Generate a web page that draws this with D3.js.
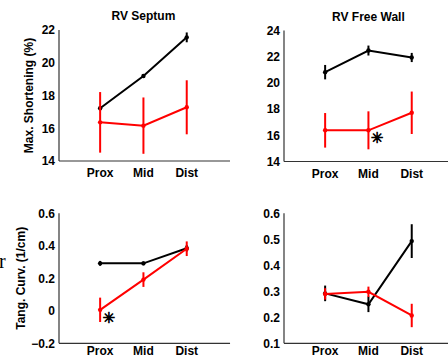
<!DOCTYPE html>
<html>
<head>
<meta charset="utf-8">
<script src="https://cdn.jsdelivr.net/npm/d3@7"></script>
<style>
body { margin: 0; background: #fff; }
text { font-family: "Liberation Sans", Arial, sans-serif; font-weight: bold; }
</style>
</head>
<body>
<div id="chart"></div>
<script>
var width = 448, height = 358;

var segments = ["Prox", "Mid", "Dist"];
var titles = ["RV Septum", "RV Free Wall", "", ""];
var yLabels = ["Max. Shortening (%)", "", "Tang. Curv. (1/cm)", ""];

// black = control, red = patient; mean and error half-width
var shortSeptBlack = [17.22, 19.19, 21.55];
var shortSeptBlackErr = [0.12, 0.1, 0.3];
var shortSeptRed = [16.36, 16.16, 17.28];
var shortSeptRedErr = [1.85, 1.72, 1.65];

var shortFreeBlack = [20.82, 22.47, 21.94];
var shortFreeBlackErr = [0.55, 0.38, 0.35];
var shortFreeRed = [16.38, 16.38, 17.72];
var shortFreeRedErr = [1.32, 1.45, 1.62];

var curvSeptBlack = [0.292, 0.292, 0.385];
var curvSeptBlackErr = [0.015, 0.012, 0.02];
var curvSeptRed = [0.006, 0.192, 0.382];
var curvSeptRedErr = [0.075, 0.045, 0.045];

var curvFreeBlack = [0.292, 0.25, 0.493];
var curvFreeBlackErr = [0.03, 0.03, 0.065];
var curvFreeRed = [0.29, 0.298, 0.207];
var curvFreeRedErr = [0.022, 0.02, 0.045];

var yDomains = [[14, 22], [14, 24], [-0.2, 0.6], [0.1, 0.6]];
var yTicks = [[14, 16, 18, 20, 22], [14, 16, 18, 20, 22, 24],
    [-0.2, 0, 0.2, 0.4, 0.6], [0.1, 0.2, 0.3, 0.4, 0.5, 0.6]];
// significance stars: [panel, segment index]
var stars = [[1, 1], [2, 0]];

var panels = [
    {left: 59, top: 30, h: 131, black: shortSeptBlack, blackErr: shortSeptBlackErr, red: shortSeptRed, redErr: shortSeptRedErr},
    {left: 284, top: 30.5, h: 131, black: shortFreeBlack, blackErr: shortFreeBlackErr, red: shortFreeRed, redErr: shortFreeRedErr},
    {left: 59, top: 213.3, h: 130, black: curvSeptBlack, blackErr: curvSeptBlackErr, red: curvSeptRed, redErr: curvSeptRedErr},
    {left: 284, top: 213.3, h: 130, black: curvFreeBlack, blackErr: curvFreeBlackErr, red: curvFreeRed, redErr: curvFreeRedErr}
];

var svg = d3.select("#chart")
    .append("svg")
    .attr("width", width)
    .attr("height", height);

var axisColor = "#333";

panels.forEach(function(p, k) {
    var x = d3.scaleLinear().domain([0.05, 4]).range([p.left, p.left + 3.95 * 43.3]);
    var y = d3.scaleLinear().domain(yDomains[k]).range([p.top + p.h, p.top]);
    var g = svg.append("g");

    // axes lines
    g.append("line")
        .attr("x1", x(0.05)).attr("x2", x(4))
        .attr("y1", y(yDomains[k][0])).attr("y2", y(yDomains[k][0]))
        .attr("stroke", axisColor).attr("stroke-width", 1.2);
    g.append("line")
        .attr("x1", x(0.05)).attr("x2", x(0.05))
        .attr("y1", y(yDomains[k][0])).attr("y2", y(yDomains[k][1]))
        .attr("stroke", axisColor).attr("stroke-width", 1.2);

    g.selectAll(".ytick")
        .data(yTicks[k])
        .enter().append("text")
        .attr("x", x(0.05) - 4)
        .attr("y", function(d) { return y(d); })
        .attr("dy", "0.36em")
        .attr("text-anchor", "end")
        .style("font-size", "12px")
        .text(function(d) { return d3.format("")(+d.toFixed(1)); });

    g.selectAll(".xtick")
        .data(segments)
        .enter().append("text")
        .attr("x", function(d, i) { return x(i + 1); })
        .attr("y", y(yDomains[k][0]) + (k < 2 ? 16 : 12))
        .attr("text-anchor", "middle")
        .style("font-size", "12px")
        .text(function(d) { return d; });

    if (titles[k]) {
        g.append("text")
            .attr("x", x(2))
            .attr("y", p.top - 10)
            .attr("text-anchor", "middle")
            .style("font-size", "12px")
            .text(titles[k]);
    }
    if (yLabels[k]) {
        g.append("text")
            .attr("transform", "translate(" + (k === 0 ? 33 : 25) + "," + (p.top + p.h / 2) + ") rotate(-90)")
            .attr("text-anchor", "middle")
            .style("font-size", "12px")
            .text(yLabels[k]);
    }

    [["#000", p.black, p.blackErr], ["#f00", p.red, p.redErr]].forEach(function(s) {
        var col = s[0], vals = s[1], errs = s[2];
        g.append("path")
            .datum(vals)
            .attr("fill", "none")
            .attr("stroke", col)
            .attr("stroke-width", 2)
            .attr("d", d3.line().x(function(d, i) { return x(i + 1); }).y(function(d) { return y(d); }));
        g.selectAll(null)
            .data(vals)
            .enter().append("line")
            .attr("x1", function(d, i) { return x(i + 1); })
            .attr("x2", function(d, i) { return x(i + 1); })
            .attr("y1", function(d, i) { return y(d - errs[i]); })
            .attr("y2", function(d, i) { return y(d + errs[i]); })
            .attr("stroke", col)
            .attr("stroke-width", 2);
        g.selectAll(null)
            .data(vals)
            .enter().append("circle")
            .attr("cx", function(d, i) { return x(i + 1); })
            .attr("cy", function(d) { return y(d); })
            .attr("r", 2.2)
            .attr("fill", col);
    });

    stars.filter(function(s) { return s[0] === k; }).forEach(function(s) {
        g.append("text")
            .attr("x", x(s[1] + 1) + 8.7)
            .attr("y", y(p.red[s[1]]) + 8)
            .attr("dominant-baseline", "central")
            .attr("text-anchor", "middle")
            .style("font-size", "15px")
            .style("font-family", "DejaVu Sans")
            .attr("stroke", "#000")
            .attr("stroke-width", 0.7)
            .text("\u2733");
    });
});

// stray serif glyph at the left edge
svg.append("text")
    .attr("x", -1)
    .attr("y", 267.5)
    .style("font-family", "Liberation Serif")
    .style("font-weight", "normal")
    .style("font-size", "20px")
    .text("r");
</script>
</body>
</html>
